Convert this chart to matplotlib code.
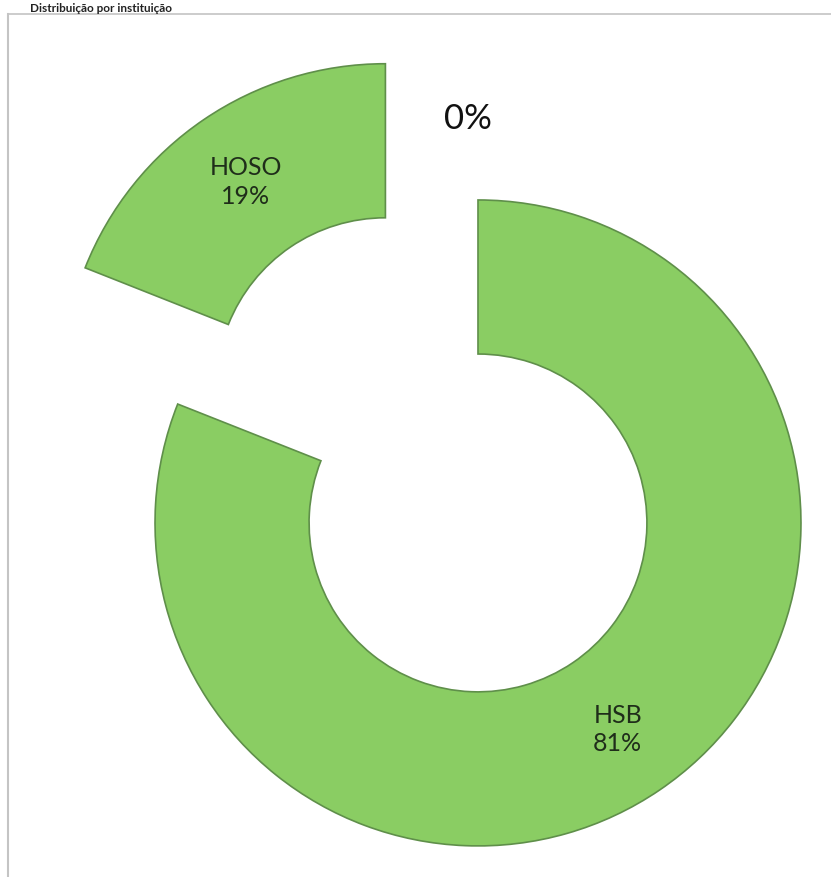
import numpy as np
import matplotlib
matplotlib.use("Agg")
from matplotlib import pyplot as plt
from matplotlib.lines import Line2D

# data
categories = ['HSB', 'HOSO', '']
shares = [81, 19, 0]
explode = [0, 0.51, 0]
title = 'Distribuição por instituição'

green = '#8acd63'
edge = '#5f8f4a'

fig = plt.figure(figsize=(8.31, 8.78), dpi=100)
ax = fig.add_axes([0, 0, 1, 1])

wedges, _ = ax.pie(shares, explode=explode, startangle=90, counterclock=False,
                   colors=[green] * len(shares), radius=1,
                   wedgeprops=dict(width=0.477, edgecolor=edge, linewidth=1.2))
wedges[2].set_visible(False)

# labels in the middle of the ring, on the (exploded) wedge
for w, name, v in zip(wedges, categories, shares):
    mid = np.deg2rad((w.theta1 + w.theta2) / 2)
    cx, cy = w.center
    if v == 0:
        r = 1.255
        ax.text(cx - 0.03 + r * np.cos(mid), cy + r * np.sin(mid), f'{v}%',
                ha='center', va='center', fontsize=25, family='Lato', color='#111111')
    else:
        r = 0.77
        ax.text(cx + r * np.cos(mid), cy + r * np.sin(mid), f'{name}\n{v}%',
                ha='center', va='center', fontsize=18, family='Lato',
                color='#1f2d1a', linespacing=1.3)

ax.set_xlim(-1.480, 1.093)
ax.set_ylim(-1.096, 1.622)
ax.set_aspect('equal')
ax.axis('off')

# title squeezed above the frame, frame lines from the scan
fig.text(30 / 831, 1 - 12 / 878, title, ha='left', va='baseline',
         fontsize=8.5, fontweight='bold', family='Lato', color='#222222')
fig.add_artist(Line2D([8 / 831, 1], [1 - 15 / 878, 1 - 15 / 878],
                      color='#c4c4c4', lw=1.2))
fig.add_artist(Line2D([8 / 831, 8 / 831], [1 - 15 / 878, 0],
                      color='#c4c4c4', lw=1.5))

fig.savefig('out.png', dpi=100)
